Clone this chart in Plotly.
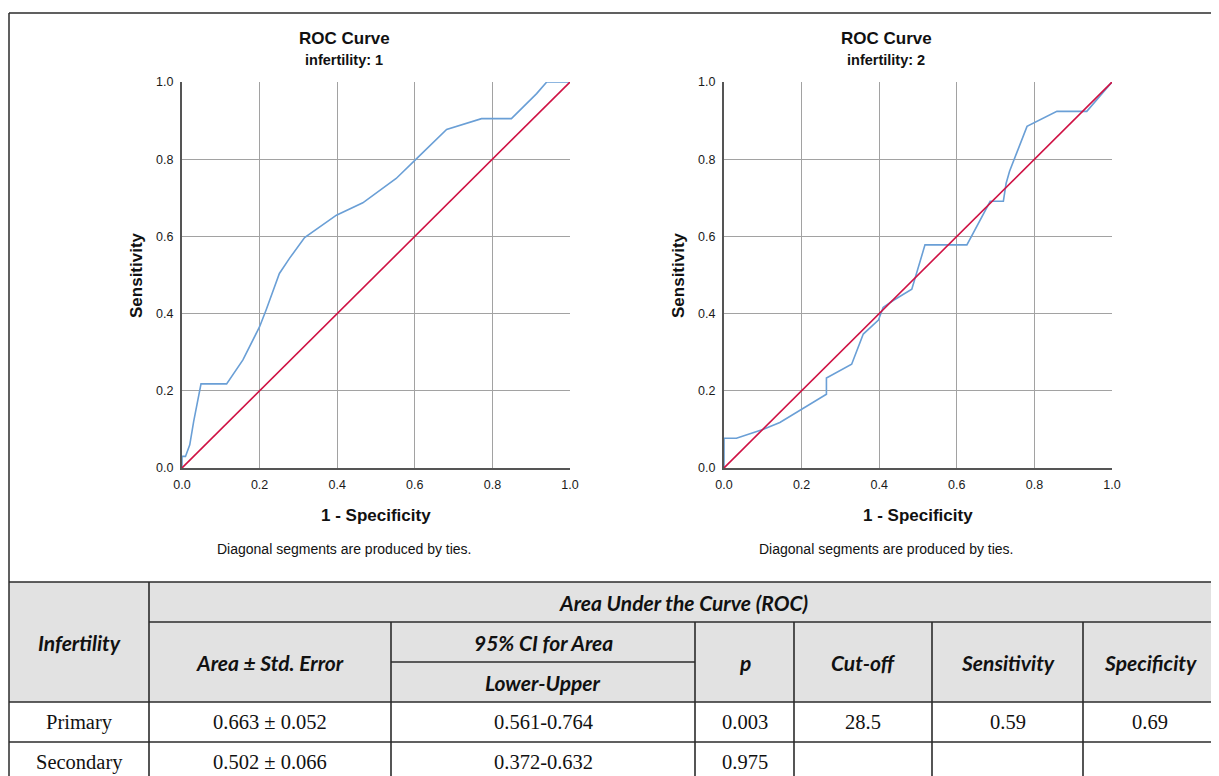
import plotly.graph_objects as go

W, H = 1219, 776

# ---------------- data ----------------
roc1_fpr = [0, 0, 0.009, 0.02, 0.03, 0.049, 0.115, 0.157, 0.2, 0.217, 0.251, 0.277,
            0.316, 0.398, 0.466, 0.552, 0.602, 0.682, 0.772, 0.849, 0.914, 0.94, 1.0]
roc1_tpr = [0, 0.03, 0.03, 0.06, 0.12, 0.218, 0.218, 0.28, 0.366, 0.41, 0.504, 0.543,
            0.597, 0.655, 0.687, 0.75, 0.799, 0.877, 0.905, 0.905, 0.97, 1.0, 1.0]

roc2_fpr = [0, 0, 0.032, 0.10, 0.144, 0.2, 0.264, 0.264, 0.329, 0.359, 0.398, 0.41,
            0.436, 0.484, 0.518, 0.626, 0.686, 0.72, 0.727, 0.736, 0.781, 0.858, 0.935, 1.0]
roc2_tpr = [0, 0.077, 0.077, 0.10, 0.118, 0.153, 0.191, 0.233, 0.269, 0.347, 0.383, 0.416,
            0.434, 0.463, 0.578, 0.578, 0.691, 0.691, 0.737, 0.769, 0.885, 0.924, 0.924, 1.0]

ref_fpr = [0, 1]
ref_tpr = [0, 1]

chart_titles = ["ROC Curve", "ROC Curve"]
chart_subtitles = ["infertility: 1", "infertility: 2"]
x_title = "1 - Specificity"
y_title = "Sensitivity"
footnote = "Diagonal segments are produced by ties."
tick_vals = [0, 0.2, 0.4, 0.6, 0.8, 1.0]

tbl_group_title = "Infertility"
tbl_span_title = "Area Under the Curve (ROC)"
tbl_col_titles = ["Area ± Std. Error", "95% CI for Area", "p", "Cut-off", "Sensitivity", "Specificity"]
tbl_ci_sub = "Lower-Upper"
tbl_group = ["Primary", "Secondary"]
tbl_area = ["0.663 ± 0.052", "0.502 ± 0.066"]
tbl_ci = ["0.561-0.764", "0.372-0.632"]
tbl_p = ["0.003", "0.975"]
tbl_cutoff = ["28.5", ""]
tbl_sens = ["0.59", ""]
tbl_spec = ["0.69", ""]

# ---------------- styling / geometry (screen pixels) ----------------
BLUE = "#6a9fd6"
RED = "#cf1244"
GRID = "#a2a2a2"
AXIS = "#555555"
LINE = "#2b2b2b"
HDR_FILL = "#e2e2e2"
SANS = "Liberation Sans, Arial, sans-serif"
TFONT = "Lato, Calibri, sans-serif"
SERIF = "Liberation Serif, Times New Roman, serif"

OFF = 8  # page body margin offset

plots = [(182, 570), (724, 1112)]   # left/right pixel x of plot areas
PY0, PY1 = 82, 468                   # top / bottom pixel y of plot areas
TEXT_SHIFT = -32                     # chart texts centred left of plot centre

col_edges = [9, 149, 391, 695, 794, 932, 1083, 1217]
row_edges = [582, 622, 662, 702, 742, 782]
RIGHT_END = 1240
BOTTOM_END = 800

fig = go.Figure()

series = [(roc1_fpr, roc1_tpr), (roc2_fpr, roc2_tpr)]
for i, (fx, ty) in enumerate(series):
    xa = "x" if i == 0 else "x2"
    ya = "y" if i == 0 else "y2"
    fig.add_trace(go.Scatter(x=fx, y=ty, mode="lines", line=dict(color=BLUE, width=1.6),
                             xaxis=xa, yaxis=ya, showlegend=False, hoverinfo="skip"))
    fig.add_trace(go.Scatter(x=ref_fpr, y=ref_tpr, mode="lines", line=dict(color=RED, width=1.6),
                             xaxis=xa, yaxis=ya, showlegend=False, hoverinfo="skip"))

# invisible pixel-space overlay axis for table + texts
fig.add_trace(go.Scatter(x=[OFF], y=[OFF], mode="markers", marker=dict(opacity=0),
                         xaxis="x3", yaxis="y3", showlegend=False, hoverinfo="skip"))


def xdom(a, b):
    return [(a - OFF) / W, (b - OFF) / W]


def ydom(top, bot):
    return [1 - (bot - OFF) / H, 1 - (top - OFF) / H]


def axis_common(dom, is_x):
    return dict(
        domain=dom, range=[0, 1], tickvals=tick_vals, tickformat=".1f",
        showgrid=True, gridcolor=GRID, gridwidth=1,
        showline=True, linecolor=AXIS, linewidth=2,
        zeroline=False, ticks="", fixedrange=True, automargin=False,
        tickfont=dict(family=SANS, size=12.5, color="#1a1a1a"),
        ticklabelstandoff=4,
        mirror=False,
    )


yd = ydom(PY0, PY1)
layout = dict(
    template="none",
    width=W, height=H, autosize=False,
    margin=dict(l=0, r=0, t=0, b=0, pad=0),
    paper_bgcolor="white", plot_bgcolor="rgba(0,0,0,0)",
    showlegend=False,
    xaxis=dict(axis_common(xdom(*plots[0]), True), anchor="y"),
    yaxis=dict(axis_common(yd, False), anchor="x"),
    xaxis2=dict(axis_common(xdom(*plots[1]), True), anchor="y2"),
    yaxis2=dict(axis_common(yd, False), anchor="x2"),
    xaxis3=dict(domain=[0, 1], range=[OFF, W + OFF], visible=False, fixedrange=True,
                anchor="y3", automargin=False),
    yaxis3=dict(domain=[0, 1], range=[H + OFF, OFF], visible=False, fixedrange=True,
                anchor="x3", automargin=False),
)
fig.update_layout(**layout)

ann = []
shapes = []


def txt(x, y, s, size, family=SANS, color="#111", angle=0):
    ann.append(dict(x=x, y=y, xref="x3", yref="y3", text=s, showarrow=False,
                    font=dict(family=family, size=size, color=color),
                    xanchor="center", yanchor="middle", textangle=angle))


for i, (x0, x1) in enumerate(plots):
    cx = (x0 + x1) / 2
    txt(cx + TEXT_SHIFT, 38, "<b>" + chart_titles[i] + "</b>", 17)
    txt(cx + TEXT_SHIFT, 60, "<b>" + chart_subtitles[i] + "</b>", 14.5)
    txt(cx, 515, "<b>" + x_title + "</b>", 17)
    txt(x0 - 46, (PY0 + PY1) / 2, "<b>" + y_title + "</b>", 17, angle=-90)
    txt(cx + TEXT_SHIFT, 549, footnote, 14)

# outer frame
shapes.append(dict(type="line", xref="x3", yref="y3", x0=9, y0=13, x1=RIGHT_END, y1=13,
                   line=dict(color=LINE, width=1.5)))
shapes.append(dict(type="line", xref="x3", yref="y3", x0=9, y0=13, x1=9, y1=BOTTOM_END,
                   line=dict(color=LINE, width=1.5)))

# table header fill
shapes.append(dict(type="rect", xref="x3", yref="y3", x0=9, y0=row_edges[0], x1=RIGHT_END,
                   y1=row_edges[3], fillcolor=HDR_FILL, line=dict(width=0), layer="below"))


def hline(y, xa, xb):
    shapes.append(dict(type="line", xref="x3", yref="y3", x0=xa, y0=y, x1=xb, y1=y,
                       line=dict(color=LINE, width=1.6)))


def vline(x, ya, yb):
    shapes.append(dict(type="line", xref="x3", yref="y3", x0=x, y0=ya, x1=x, y1=yb,
                       line=dict(color=LINE, width=1.6)))


hline(row_edges[0], 9, RIGHT_END)
hline(row_edges[1], col_edges[1], RIGHT_END)
hline(row_edges[2], col_edges[2], col_edges[3])
for r in row_edges[3:]:
    hline(r, 9, RIGHT_END)
vline(col_edges[1], row_edges[0], BOTTOM_END)
for c in col_edges[2:-1]:
    vline(c, row_edges[1], BOTTOM_END)


def ccx(k):
    return (col_edges[k] + col_edges[k + 1]) / 2


def hdr(x, y, s):
    txt(x, y, "<b><i>" + s + "</i></b>", 21, family=TFONT, color="#111")


hdr(ccx(0), (row_edges[0] + row_edges[3]) / 2, tbl_group_title)
hdr((col_edges[1] + col_edges[-1]) / 2, (row_edges[0] + row_edges[1]) / 2, tbl_span_title)
for k, t in enumerate(tbl_col_titles):
    if k == 1:
        hdr(ccx(2), (row_edges[1] + row_edges[2]) / 2, t)
        hdr(ccx(2), (row_edges[2] + row_edges[3]) / 2, tbl_ci_sub)
    else:
        hdr(ccx(k + 1), (row_edges[1] + row_edges[3]) / 2, t)

cols = [tbl_group, tbl_area, tbl_ci, tbl_p, tbl_cutoff, tbl_sens, tbl_spec]
for r in range(len(tbl_group)):
    yc = (row_edges[3 + r] + row_edges[4 + r]) / 2
    for k, col in enumerate(cols):
        if col[r]:
            txt(ccx(k), yc, col[r], 20.5, family=SERIF, color="#111")

fig.update_layout(annotations=ann, shapes=shapes)
fig.write_html("out.html")
